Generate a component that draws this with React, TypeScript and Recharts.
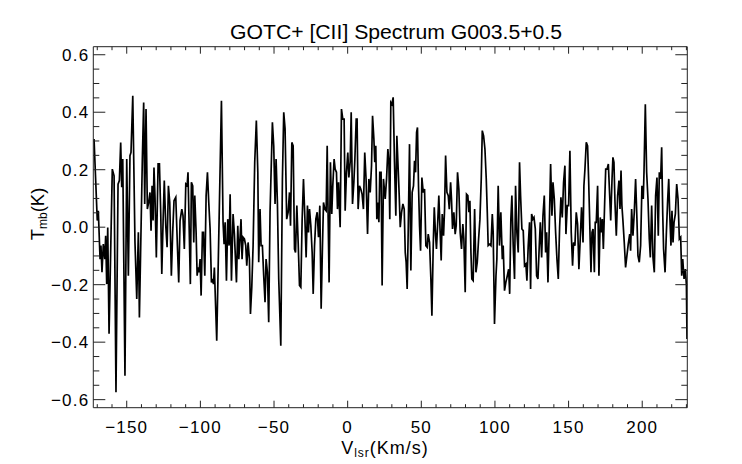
import React from 'react';
import { LineChart, Line, XAxis, YAxis } from 'recharts';

const velocity = [
  -172.2, -170.0, -169.3, -168.1, -167.5, -166.8, -165.9, -164.9, -164.3, -163.6,
  -162.9, -162.0, -159.8, -158.6, -157.3, -155.9, -155.0, -154.1, -153.4, -152.7,
  -151.2, -150.0, -148.9, -147.8, -147.1, -145.9, -144.4, -143.2, -142.1, -141.4,
  -139.4, -138.5, -137.8, -136.9, -136.0, -135.1, -134.2, -133.5, -132.8, -132.1,
  -131.5, -130.8, -129.9, -128.7, -127.8, -126.9, -126.2, -125.3, -124.5, -123.5,
  -122.6, -121.7, -120.8, -119.7, -118.8, -117.9, -116.7, -115.6, -114.7, -113.8,
  -112.6, -111.8, -110.9, -109.9, -109.0, -108.4,
  -106.8, -106.1, -105.2, -104.5, -103.8, -102.9, -102.2, -101.6, -100.9, -100.2,
  -99.5, -98.6, -97.9, -97.0, -96.1, -95.2, -94.3, -93.4, -92.5, -91.8,
  -91.1, -90.5, -88.9, -85.7, -84.6, -83.9, -83.2, -82.3, -81.4, -80.5,
  -79.8, -78.9, -77.8, -76.9, -75.5, -74.6, -73.9, -73.0, -72.4, -71.7,
  -71.0, -70.1, -69.2, -68.5, -67.6, -66.7, -66.0, -65.1, -64.2, -63.1,
  -62.0, -61.0, -60.4, -59.5, -58.8, -57.9, -57.0, -56.1, -55.4, -54.5,
  -53.6, -52.7, -51.1, -50.2, -49.3, -48.6, -47.7, -46.8, -45.4, -44.3,
  -43.4, -42.5, -41.4,
  -40.4, -39.5, -38.8, -37.9, -37.0, -36.1, -35.4, -34.5, -33.6, -32.7,
  -31.8, -30.9, -30.0, -29.1, -28.2, -27.3, -26.6, -25.9, -25.0, -24.1,
  -23.4, -22.5, -21.6, -20.7, -19.8, -18.9, -18.0, -17.1, -16.4, -15.5,
  -14.6, -13.9, -13.3, -12.6, -11.7, -10.8, -10.1, -9.2, -8.5, -7.6,
  -6.9, -6.2, -5.1, -4.2, -3.3, -2.4, -1.7, -0.8, 0.1, 0.8,
  1.7, 2.4, 3.3, 4.2, 4.9, 5.8, 6.4, 7.1, 8.0, 8.9,
  9.8, 10.7, 11.6, 12.5, 13.5, 14.4, 15.3, 16.2, 16.9, 17.8,
  18.4, 19.1, 19.8, 20.5, 21.2, 21.8, 22.7, 23.4, 24.3,
  25.5, 26.4, 27.3, 28.0, 28.6, 29.3, 30.0, 30.9, 31.8, 32.7,
  33.4, 34.3, 35.0, 35.7, 36.6, 37.5, 38.4, 39.1, 39.7, 40.4,
  41.1, 42.0, 42.9, 43.8, 44.7, 45.4, 46.1, 46.8, 47.4, 48.1,
  48.8, 49.5, 50.4, 51.3, 52.2, 53.1, 54.0, 54.7, 55.6, 56.5,
  57.2, 58.1, 58.8, 59.7, 60.3, 61.2, 61.9, 62.8, 63.5, 64.2,
  65.1, 65.8, 66.5, 67.4, 68.3, 69.0, 69.9, 70.5, 71.2, 72.1,
  73.0, 73.7, 74.6, 75.5, 76.4, 77.3, 78.2, 78.9, 79.8, 80.7,
  81.6, 82.3, 83.0, 83.7, 84.3, 85.2, 86.2, 87.1, 88.0, 88.9,
  89.8, 90.7,
  91.4, 92.3, 93.2, 94.1, 94.8, 95.4, 96.4, 97.3, 98.2, 98.8,
  99.7, 100.7, 101.3, 102.2, 103.1, 104.0, 105.0, 105.6, 106.5, 107.4,
  108.4, 109.3, 110.0, 110.8, 111.5, 112.4, 113.3, 114.0, 114.9, 115.8,
  116.7, 117.4, 118.3, 119.2, 120.1, 121.0, 121.7, 122.6, 123.5, 124.2,
  124.9, 125.8, 126.5, 127.4, 128.3, 129.2, 130.1, 130.8, 131.7, 132.6,
  133.5, 134.4, 135.1, 136.0, 136.9, 137.8, 138.7, 139.4, 140.3, 141.2,
  142.1, 143.0, 143.9, 144.8, 145.7, 146.6, 147.5, 148.2, 149.1, 150.0,
  150.9, 151.8, 152.7, 153.4, 154.3, 155.2, 156.1, 157.0, 157.9, 158.8,
  159.8, 160.4, 161.1, 162.0, 162.9, 163.6, 164.3, 165.2, 165.9, 166.6,
  167.5, 168.1, 168.8, 169.7, 170.6, 171.5, 172.2, 172.9, 173.6, 174.5,
  175.2, 176.1, 177.0, 177.9, 178.6, 179.5, 180.1, 180.8, 181.5, 182.4,
  183.3, 184.2, 184.9, 185.6, 186.2, 186.9, 187.8, 188.7, 189.6, 190.5,
  191.5, 192.1, 192.8, 193.7, 194.6, 195.5, 196.4, 197.1, 198.0, 198.9,
  199.8, 200.7, 201.2, 202.1, 203.0, 203.9, 204.8, 205.5, 206.4, 207.3,
  208.2, 209.1, 210.0, 210.9, 211.6, 212.5, 213.2, 213.9, 214.5, 215.5,
  216.4, 217.3, 218.0, 218.6, 219.5, 220.2, 220.9, 221.6, 222.5, 223.4,
  224.3, 225.2, 226.1, 226.8, 227.5, 228.4, 229.3, 230.0, 230.4,
];

const tmb = [
  0.307, 0.023, 0.057, -0.111, -0.064, -0.157, -0.059, -0.111, -0.030, -0.198,
  -0.001, -0.371, 0.202, 0.179, -0.574, 0.150, 0.162, 0.295, 0.139, 0.237,
  -0.517, 0.237, -0.169, 0.249, 0.260, 0.457, -0.053, -0.250, -0.018, -0.314,
  0.237, 0.434, 0.081, 0.411, 0.063, 0.086, 0.121, -0.012, 0.144, 0.023,
  0.208, 0.104, -0.105, 0.220, 0.220, 0.046, -0.163, 0.023, 0.162, 0.005,
  -0.070, 0.144, 0.086, -0.169, -0.018, 0.092, 0.104, -0.064, -0.192, 0.023,
  0.063, 0.040, -0.076, 0.150, 0.144, 0.191,
  -0.198, 0.156, 0.144, -0.053, 0.110, -0.018, -0.169, -0.140, -0.157, -0.111,
  -0.238, -0.018, -0.018, -0.169, 0.110, 0.191, 0.086, -0.006, -0.192, -0.180,
  -0.198, -0.140, -0.395, 0.440, 0.017, -0.059, 0.017, -0.186, 0.028, -0.064,
  0.115, -0.186, 0.046, -0.024, -0.192, 0.005, -0.111, -0.030, 0.028, -0.111,
  -0.035, -0.041, -0.064, -0.134, -0.053, -0.111, -0.302, -0.209, -0.064, 0.226,
  0.371, 0.191, -0.122, 0.063, -0.064, -0.064, -0.169, -0.261, -0.111, -0.157,
  -0.331, 0.052, 0.365, 0.283, 0.081, 0.237, 0.086, -0.180, -0.412, 0.168,
  0.400, 0.342, 0.028,
  0.052, 0.121, 0.005, 0.295, 0.283, -0.076, -0.088, 0.075, -0.053, -0.203,
  -0.209, 0.028, 0.168, 0.040, -0.105, 0.075, -0.018, 0.063, 0.005, -0.088,
  -0.232, -0.064, 0.028, 0.052, -0.035, 0.075, -0.284, -0.064, 0.086, 0.063,
  0.057, 0.283, 0.052, -0.192, 0.226, 0.046, 0.144, 0.237, 0.202, 0.191,
  0.063, 0.156, 0.000, 0.411, 0.376, 0.376, 0.057, 0.191, 0.260, 0.173,
  0.226, 0.400, 0.081, 0.156, 0.237, 0.376, 0.376, 0.063, 0.144, 0.133,
  0.115, 0.063, 0.260, 0.168, -0.024, 0.168, 0.121, 0.214, 0.388, 0.307,
  0.226, 0.283, 0.028, 0.086, 0.017, 0.191, 0.191, -0.203, 0.168,
  0.098, 0.168, 0.272, 0.226, 0.028, 0.434, 0.428, 0.452, 0.226, 0.040,
  0.318, 0.202, 0.110, 0.000, 0.052, 0.081, 0.063, -0.088, -0.122, -0.215,
  -0.018, 0.289, -0.151, 0.121, 0.144, 0.231, 0.191, 0.330, 0.347, 0.144,
  0.005, -0.082, 0.173, 0.121, 0.133, -0.064, -0.070, -0.024, -0.053, -0.180,
  -0.308, -0.064, 0.069, -0.030, -0.076, 0.023, 0.110, -0.018, -0.116, 0.046,
  -0.030, 0.063, 0.249, 0.121, 0.110, 0.063, 0.156, 0.098, -0.006, 0.052,
  -0.024, 0.005, 0.191, 0.133, -0.018, -0.076, 0.011, -0.041, -0.226, 0.115,
  0.110, 0.052, 0.092, -0.088, -0.180, -0.186, 0.063, -0.157, -0.122, -0.041,
  0.028, 0.168,
  0.336, 0.318, 0.272, 0.168, 0.052, -0.064, -0.059, -0.064, 0.046, -0.018,
  -0.337, -0.169, -0.111, 0.144, -0.064, 0.052, -0.111, -0.064, -0.221, -0.192,
  -0.169, -0.146, -0.232, 0.028, 0.110, -0.064, -0.180, 0.144, -0.018, -0.088,
  0.226, 0.110, -0.006, -0.012, -0.134, -0.128, -0.186, -0.064, 0.017, -0.215,
  0.046, 0.028, 0.034, -0.006, -0.169, -0.180, -0.064, 0.017, -0.105, 0.040,
  0.110, -0.088, -0.018, -0.192, 0.005, 0.220, 0.040, 0.156, 0.098, -0.018,
  -0.111, -0.180, 0.000, 0.104, 0.034, 0.156, 0.214, -0.024, 0.075, 0.075,
  0.266, -0.018, -0.134, -0.053, -0.064, 0.052, 0.011, -0.146, -0.041, 0.069,
  -0.053, 0.144, 0.202, 0.295, 0.283, 0.168, 0.028, -0.157, -0.018, -0.006,
  -0.157, 0.017, 0.017, 0.144, -0.169, 0.034, -0.018, 0.028, -0.076, 0.086,
  0.202, 0.202, 0.220, 0.110, 0.023, 0.168, 0.243, 0.226, 0.086, -0.030,
  0.110, 0.162, 0.063, 0.197, 0.075, 0.023, -0.053, -0.140, -0.099, -0.059,
  -0.024, -0.082, 0.063, -0.030, 0.052, 0.168, 0.028, -0.099, -0.122, -0.064,
  0.144, 0.098, 0.191, 0.428, 0.191, 0.098, -0.041, -0.105, 0.075, -0.105,
  -0.157, 0.110, 0.173, -0.030, 0.191, 0.168, 0.278, 0.052, -0.076, -0.157,
  -0.018, 0.098, 0.168, 0.057, -0.064, 0.057, -0.053, 0.017, 0.046, 0.150,
  0.098, -0.041, -0.035, -0.169, -0.111, -0.180, -0.146, -0.203, -0.389,
];

const xTicks = [
  -170, -160, -150, -140, -130, -120, -110, -100, -90, -80, -70, -60, -50, -40,
  -30, -20, -10, 0, 10, 20, 30, 40, 50, 60, 70, 80, 90, 100, 110, 120, 130, 140,
  150, 160, 170, 180, 190, 200, 210, 220, 230,
];
const xMajorTicks = [-150, -100, -50, 0, 50, 100, 150, 200];
const yTicks = [
  -0.6, -0.55, -0.5, -0.45, -0.4, -0.35, -0.3, -0.25, -0.2, -0.15, -0.1, -0.05, 0,
  0.05, 0.1, 0.15, 0.2, 0.25, 0.3, 0.35, 0.4, 0.45, 0.5, 0.55, 0.6,
];
const yMajorTicks = [-0.6, -0.4, -0.2, 0, 0.2, 0.4, 0.6];
const xDomain = [-172.7, 230.6];
const yDomain = [-0.628, 0.628];
const titleText = 'GOTC+ [CII] Spectrum G003.5+0.5';

const data = velocity.map((v, i) => ({ v, t: tmb[i] }));

const FONT = '"Liberation Sans", Arial, Helvetica, sans-serif';
const FRAME = '#222';
const MINUS = '\u2212';

const isXMajor = (v: number) => xMajorTicks.some((m) => Math.abs(m - v) < 1e-6);
const isYMajor = (v: number) => yMajorTicks.some((m) => Math.abs(m - v) < 1e-6);
const fmtX = (v: number) => (v < 0 ? MINUS + Math.abs(v) : String(v));
const fmtY = (v: number) => (v < -1e-9 ? MINUS : '') + Math.abs(v).toFixed(1);

const labelStyle = { fontFamily: FONT, fontSize: 17, letterSpacing: 1.2 } as any;

const BottomTick = (props: any) => {
  const { x, y, payload } = props;
  const major = isXMajor(payload.value);
  return (
    <g>
      <line x1={x} y1={y} x2={x} y2={y - (major ? 7 : 3.5)} stroke={FRAME} strokeWidth={1} />
      {major && (
        <text x={x} y={y + 24.8} textAnchor="middle" fill="#000" style={labelStyle}>
          {fmtX(payload.value)}
        </text>
      )}
    </g>
  );
};

const TopTick = (props: any) => {
  const { x, y, payload } = props;
  const major = isXMajor(payload.value);
  return <line x1={x} y1={y} x2={x} y2={y + (major ? 7 : 3.5)} stroke={FRAME} strokeWidth={1} />;
};

const LeftTick = (props: any) => {
  const { x, y, payload } = props;
  const major = isYMajor(payload.value);
  return (
    <g>
      <line x1={x} y1={y} x2={x + (major ? 12 : 6)} y2={y} stroke={FRAME} strokeWidth={1} />
      {major && (
        <text x={x - 4} y={y + 6} textAnchor="end" fill="#000" style={labelStyle}>
          {fmtY(payload.value)}
        </text>
      )}
    </g>
  );
};

const RightTick = (props: any) => {
  const { x, y, payload } = props;
  const major = isYMajor(payload.value);
  return <line x1={x} y1={y} x2={x - (major ? 12 : 6)} y2={y} stroke={FRAME} strokeWidth={1} />;
};

export default function App() {
  return (
    <div style={{ position: 'absolute', left: 0, top: 0, width: 742, height: 464, background: '#fff' }}>
      <LineChart
        width={742}
        height={464}
        data={data}
        margin={{ top: 45.7, right: 53.7, bottom: 16.3, left: 33.3 }}
      >
        <XAxis
          xAxisId="b"
          dataKey="v"
          type="number"
          orientation="bottom"
          domain={xDomain}
          allowDataOverflow
          ticks={xTicks}
          interval={0}
          height={40}
          tickSize={0}
          tickMargin={0}
          tickLine={false}
          axisLine={{ stroke: FRAME, strokeWidth: 1 }}
          tick={(p: any) => <BottomTick {...p} />}
        />
        <XAxis
          xAxisId="t"
          dataKey="v"
          type="number"
          orientation="top"
          domain={xDomain}
          allowDataOverflow
          ticks={xTicks}
          interval={0}
          height={1}
          tickSize={0}
          tickMargin={0}
          tickLine={false}
          axisLine={{ stroke: FRAME, strokeWidth: 1 }}
          tick={(p: any) => <TopTick {...p} />}
        />
        <YAxis
          yAxisId="l"
          type="number"
          orientation="left"
          domain={yDomain}
          allowDataOverflow
          ticks={yTicks}
          interval={0}
          width={60}
          tickSize={0}
          tickMargin={0}
          tickLine={false}
          axisLine={{ stroke: FRAME, strokeWidth: 1 }}
          tick={(p: any) => <LeftTick {...p} />}
        />
        <YAxis
          yAxisId="r"
          type="number"
          orientation="right"
          domain={yDomain}
          allowDataOverflow
          ticks={yTicks}
          interval={0}
          width={1}
          tickSize={0}
          tickMargin={0}
          tickLine={false}
          axisLine={{ stroke: FRAME, strokeWidth: 1 }}
          tick={(p: any) => <RightTick {...p} />}
        />
        <Line
          xAxisId="b"
          yAxisId="l"
          type="linear"
          dataKey="t"
          stroke="#000"
          strokeWidth={1.7}
          dot={false}
          activeDot={false}
          isAnimationActive={false}
        />
      </LineChart>
      <svg
        width={742}
        height={464}
        style={{ position: 'absolute', left: 0, top: 0, pointerEvents: 'none' }}
      >
        <text
          x={396}
          y={38.5}
          textAnchor="middle"
          fill="#000"
          textLength={332}
          lengthAdjust="spacingAndGlyphs"
          style={{ fontFamily: FONT, fontSize: 20.5 }}
        >
          {titleText}
        </text>
        <text
          x={385}
          y={453.5}
          textAnchor="middle"
          fill="#000"
          style={{ fontFamily: FONT, fontSize: 18, letterSpacing: 1 }}
        >
          V
          <tspan dy={3} style={{ fontSize: 12 }}>lsr</tspan>
          <tspan dy={-3}>(Km/s)</tspan>
        </text>
        <text
          transform="translate(44,214) rotate(-90)"
          x={0}
          y={0}
          textAnchor="middle"
          fill="#000"
          style={{ fontFamily: FONT, fontSize: 18.5 }}
        >
          T
          <tspan dy={3} style={{ fontSize: 12 }}>mb</tspan>
          <tspan dy={-3}>(K)</tspan>
        </text>
      </svg>
    </div>
  );
}
